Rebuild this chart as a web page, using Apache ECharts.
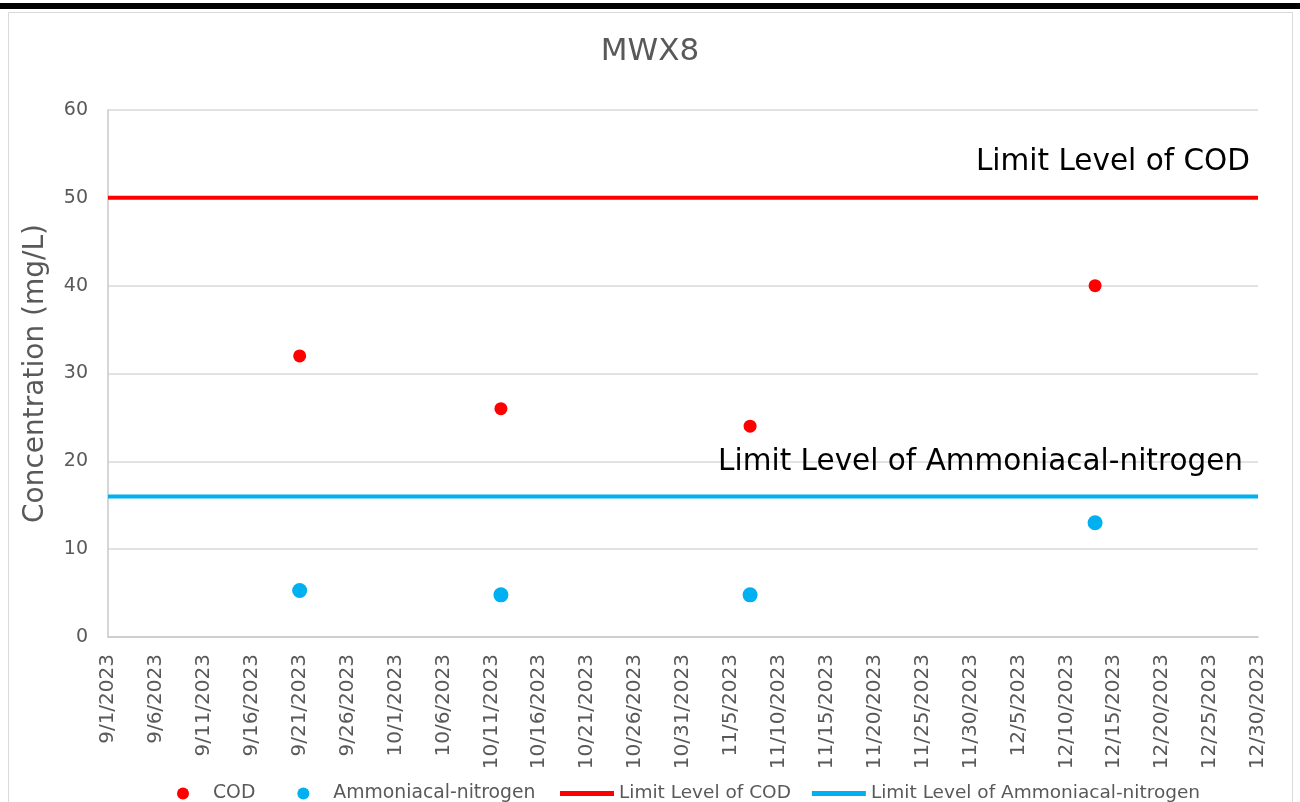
<!DOCTYPE html>
<html>
<head>
<meta charset="utf-8">
<script src="https://cdn.jsdelivr.net/npm/echarts@6/dist/echarts.min.js"></script>
<style>
html,body{margin:0;padding:0;background:#fff;}
#chart{width:1300px;height:802px;}
</style>
</head>
<body>
<div id="chart"></div>
<script>
// ---- data ----
const sampleDates = ['2023-09-21', '2023-10-12', '2023-11-07', '2023-12-13'];
const codValues = [32, 26, 24, 40];
const ammoniaValues = [5.3, 4.8, 4.8, 13];
const limitDates = ['2023-09-01', '2023-12-30'];
const codLimit = 50;
const ammoniaLimit = 16;
const seriesNames = ['COD', 'Ammoniacal-nitrogen', 'Limit Level of COD', 'Limit Level of Ammoniacal-nitrogen'];
const yTicks = [0, 10, 20, 30, 40, 50, 60];

// convert ISO date to Excel serial day number (9/1/2023 = 45170)
function toSerial(s) {
  const p = s.split('-').map(Number);
  return Date.UTC(p[0], p[1] - 1, p[2]) / 86400000 + 25569;
}
function serialLabel(v) {
  const d = new Date((v - 25569) * 86400000);
  return (d.getUTCMonth() + 1) + '/' + d.getUTCDate() + '/' + d.getUTCFullYear();
}

const FONT = 'DejaVu Sans';
const GRAY = '#595959';
const xMin = toSerial(limitDates[0]);
const xMax = toSerial(limitDates[1]);

const chart = echarts.init(document.getElementById('chart'));
chart.setOption({
  animation: false,
  backgroundColor: '#fff',
  textStyle: { fontFamily: FONT },
  graphic: [
    { type: 'rect', shape: { x: 8.5, y: 12.5, width: 1284, height: 800 }, style: { fill: 'none', stroke: '#D9D9D9', lineWidth: 1 }, silent: true },
    { type: 'rect', shape: { x: 0, y: 3, width: 1300, height: 6 }, style: { fill: '#000' }, silent: true }
  ],
  title: {
    text: 'MWX8',
    left: 'center',
    top: 31,
    textStyle: { fontFamily: FONT, fontSize: 31, fontWeight: 'normal', color: GRAY }
  },
  grid: { left: 108, right: 42, top: 110, bottom: 165, containLabel: false },
  legend: [
    {
      data: [
        { name: seriesNames[0], icon: 'circle' },
        { name: seriesNames[1], icon: 'circle' }
      ],
      left: 172, top: 779,
      itemWidth: 50, itemHeight: 12, itemGap: 42,
      textStyle: { fontFamily: FONT, fontSize: 18.8, color: GRAY },
      selectedMode: false
    },
    {
      data: [
        { name: seriesNames[2], icon: 'rect' },
        { name: seriesNames[3], icon: 'rect' }
      ],
      left: 555, top: 779,
      itemWidth: 54, itemHeight: 5, itemGap: 21,
      textStyle: { fontFamily: FONT, fontSize: 18.5, color: GRAY },
      selectedMode: false
    }
  ],
  xAxis: {
    type: 'value',
    min: xMin, max: xMax, interval: 5,
    axisLine: { show: true, lineStyle: { color: '#C8C8C8', width: 1.5 } },
    axisTick: { show: false },
    splitLine: { show: false },
    axisLabel: {
      rotate: 90, margin: 17,
      fontFamily: FONT, fontSize: 20, color: GRAY,
      formatter: serialLabel
    }
  },
  yAxis: {
    type: 'value',
    min: yTicks[0], max: yTicks[yTicks.length - 1], interval: 10,
    name: 'Concentration (mg/L)',
    nameLocation: 'middle', nameGap: 58,
    nameTextStyle: { fontFamily: FONT, fontSize: 28, color: GRAY },
    axisLine: { show: true, lineStyle: { color: '#C8C8C8', width: 1.5 } },
    axisTick: { show: false },
    splitLine: { show: true, lineStyle: { color: '#D9D9D9', width: 1.5 } },
    axisLabel: { fontFamily: FONT, fontSize: 19, color: GRAY, margin: 20 }
  },
  series: [
    {
      name: seriesNames[2], type: 'line',
      data: limitDates.map(d => [toSerial(d), codLimit]),
      showSymbol: false, symbol: 'none',
      lineStyle: { color: '#FF0000', width: 4 },
      itemStyle: { color: '#FF0000' },
      endLabel: {
        show: true, formatter: seriesNames[2],
        fontFamily: FONT, fontSize: 29.5, color: '#000',
        align: 'right', verticalAlign: 'middle', offset: [-16, -35]
      },
      z: 2
    },
    {
      name: seriesNames[3], type: 'line',
      data: limitDates.map(d => [toSerial(d), ammoniaLimit]),
      showSymbol: false, symbol: 'none',
      lineStyle: { color: '#00B0F0', width: 4 },
      itemStyle: { color: '#00B0F0' },
      endLabel: {
        show: true, formatter: seriesNames[3],
        fontFamily: FONT, fontSize: 29.5, color: '#000',
        align: 'right', verticalAlign: 'middle', offset: [-23, -34]
      },
      z: 2
    },
    {
      name: seriesNames[0], type: 'scatter',
      data: sampleDates.map((d, i) => [toSerial(d), codValues[i]]),
      symbolSize: 13,
      itemStyle: { color: '#FF0000', opacity: 1 },
      z: 3
    },
    {
      name: seriesNames[1], type: 'scatter',
      data: sampleDates.map((d, i) => [toSerial(d), ammoniaValues[i]]),
      symbolSize: 15,
      itemStyle: { color: '#00B0F0', opacity: 1 },
      z: 3
    }
  ]
});
</script>
</body>
</html>
